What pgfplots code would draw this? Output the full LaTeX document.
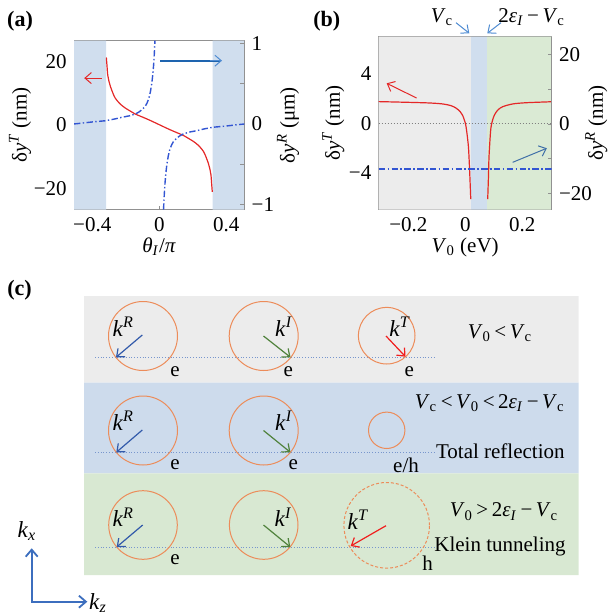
\documentclass[border=0pt]{standalone}
\usepackage{fontspec}
\setmainfont{Liberation Serif}
\usepackage{pgfplots}
\pgfplotsset{compat=1.18}
\usetikzlibrary{arrows.meta}
\definecolor{cred}{RGB}{228,40,40}
\definecolor{cblue}{RGB}{50,85,210}
\definecolor{shblue}{RGB}{208,222,238}
\definecolor{shgray}{RGB}{236,236,236}
\definecolor{shgreen}{RGB}{218,234,212}
\definecolor{rowblue}{RGB}{205,219,236}
\definecolor{rowgreen}{RGB}{216,232,210}
\definecolor{corange}{RGB}{236,140,90}
\definecolor{kRc}{RGB}{50,90,170}
\definecolor{kIc}{RGB}{80,130,60}
\definecolor{kTc}{RGB}{240,30,30}
\definecolor{dotc}{RGB}{120,150,205}
\definecolor{axc}{RGB}{145,145,145}
\definecolor{annc}{RGB}{80,140,210}
\definecolor{darkarr}{RGB}{30,100,175}
\definecolor{kaxc}{RGB}{60,110,190}
\pgfplotsset{
  panel/.style={scale only axis, anchor=south west, tick align=inside,
    major tick length=2pt, minor tick length=2pt,
    axis line style={axc}, every tick/.style={axc, line width=0.4pt},
    tick label style={black}},
}
\tikzset{barb/.style={-{Straight Barb[length=3.2pt,width=5.5pt]}}}
\begin{document}
\fontsize{10.5}{12.6}\selectfont
\begin{tikzpicture}
% ---------------- overlay axis (panel c and labels), pixel coordinates
\begin{axis}[at={(0,0)}, anchor=south west, scale only axis, width=304.5pt, height=307.5pt,
  xmin=0, xmax=609, ymin=0, ymax=615, y dir=reverse, hide axis, clip=false]
  \addplot[draw=none, fill=shgray] coordinates {(84,296) (578.5,296) (578.5,382.7) (84,382.7) (84,296)};
  \addplot[draw=none, fill=rowblue] coordinates {(84,382.7) (578.5,382.7) (578.5,473.3) (84,473.3) (84,382.7)};
  \addplot[draw=none, fill=rowgreen] coordinates {(84,473.3) (578.5,473.3) (578.5,575) (84,575) (84,473.3)};
  % dotted lines
  \addplot[dotc, densely dotted, line width=0.4pt] coordinates {(95,357.3) (436,357.3)};
  \addplot[dotc, densely dotted, line width=0.4pt] coordinates {(95,452.3) (436,452.3)};
  \addplot[dotc, densely dotted, line width=0.4pt] coordinates {(95,547) (436,547)};
  % circles
  \draw[corange, line width=0.5pt] (axis cs:143,336) circle[radius=17.25pt];
  \draw[corange, line width=0.5pt] (axis cs:263.7,336) circle[radius=17.25pt];
  \draw[corange, line width=0.5pt] (axis cs:386.7,335.7) circle[radius=14.15pt];
  \draw[corange, line width=0.5pt] (axis cs:143,430.5) circle[radius=17.25pt];
  \draw[corange, line width=0.5pt] (axis cs:263.7,430.5) circle[radius=17.25pt];
  \draw[corange, line width=0.5pt] (axis cs:386.7,430.3) circle[radius=9.1pt];
  \draw[corange, line width=0.5pt] (axis cs:143,525) circle[radius=17.15pt];
  \draw[corange, line width=0.5pt] (axis cs:263.7,525) circle[radius=17.15pt];
  \draw[corange, line width=0.5pt, dash pattern=on 1.5pt off 1pt] (axis cs:386.7,525.3) circle[radius=21.4pt];
  % arrows
  \draw[kRc, line width=0.6pt, barb] (axis cs:142.3,335) -- (axis cs:116,357.3);
  \draw[kIc, line width=0.6pt, barb] (axis cs:263.5,336) -- (axis cs:290.5,357.3);
  \draw[kTc, line width=0.6pt, barb] (axis cs:386,336) -- (axis cs:405.5,356.7);
  \draw[kRc, line width=0.6pt, barb] (axis cs:142.3,430) -- (axis cs:116.3,452.3);
  \draw[kIc, line width=0.6pt, barb] (axis cs:263.5,430.5) -- (axis cs:290.4,452.3);
  \draw[kRc, line width=0.6pt, barb] (axis cs:142.7,525) -- (axis cs:116.7,547);
  \draw[kIc, line width=0.6pt, barb] (axis cs:263.5,525) -- (axis cs:290.3,547);
  \draw[kTc, line width=0.6pt, barb] (axis cs:386,525.7) -- (axis cs:350.7,546);
  % k labels
  \node at (axis cs:123.3,326.7) {\fontsize{11.5}{13}\selectfont\textit{k}\textsuperscript{\textit{R}}};
  \node at (axis cs:284,326.7) {\fontsize{11.5}{13}\selectfont\textit{k}\textsuperscript{\textit{I}}};
  \node at (axis cs:400,326.7) {\fontsize{11.5}{13}\selectfont\textit{k}\textsuperscript{\textit{T}}};
  \node at (axis cs:123.3,421) {\fontsize{11.5}{13}\selectfont\textit{k}\textsuperscript{\textit{R}}};
  \node at (axis cs:284,421) {\fontsize{11.5}{13}\selectfont\textit{k}\textsuperscript{\textit{I}}};
  \node at (axis cs:123.3,517.3) {\fontsize{11.5}{13}\selectfont\textit{k}\textsuperscript{\textit{R}}};
  \node at (axis cs:283.3,517.3) {\fontsize{11.5}{13}\selectfont\textit{k}\textsuperscript{\textit{I}}};
  \node at (axis cs:358.3,520) {\fontsize{11.5}{13}\selectfont\textit{k}\textsuperscript{\textit{T}}};
  % e / h labels
  \node at (axis cs:175,371.7) {e};
  \node at (axis cs:288.3,371.7) {e};
  \node at (axis cs:409.3,371.7) {e};
  \node at (axis cs:175,464.3) {e};
  \node at (axis cs:293.3,464.3) {e};
  \node at (axis cs:406,465) {e/h};
  \node at (axis cs:175,559.3) {e};
  \node at (axis cs:427.7,563.3) {h};
  % row titles
  \node at (axis cs:500,333.3) {\textit{V}\textsubscript{0}\,<\,\textit{V}\textsubscript{c}};
  \node[anchor=east] at (axis cs:572,403.3) {\textit{V}\textsubscript{c}\,<\,\textit{V}\textsubscript{0}\,<\,2\textit{ε}\textsubscript{\textit{I}}\,−\,\textit{V}\textsubscript{c}};
  \node[anchor=east] at (axis cs:572,451.7) {Total reflection};
  \node at (axis cs:504,511.7) {\textit{V}\textsubscript{0}\,>\,2\textit{ε}\textsubscript{\textit{I}}\,−\,\textit{V}\textsubscript{c}};
  \node[anchor=east] at (axis cs:573,546) {Klein tunneling};
  % kx kz axes
  \draw[kaxc, line width=0.9pt, -{Straight Barb[length=3.5pt,width=6pt]}] (axis cs:31.7,601.7) -- (axis cs:31.7,548.3);
  \draw[kaxc, line width=0.9pt, -{Straight Barb[length=3.5pt,width=6pt]}] (axis cs:31.2,601.7) -- (axis cs:87.3,601.7);
  \node at (axis cs:27,531) {\fontsize{11.5}{13}\selectfont\textit{k}\textsubscript{\textit{x}}};
  \node at (axis cs:98,603) {\fontsize{11.5}{13}\selectfont\textit{k}\textsubscript{\textit{z}}};
  % panel letters
  \node at (axis cs:20,21) {\fontsize{11}{13}\selectfont\textbf{(a)}};
  \node at (axis cs:326.7,21) {\fontsize{11}{13}\selectfont\textbf{(b)}};
  \node at (axis cs:19.5,290) {\fontsize{11}{13}\selectfont\textbf{(c)}};
  % annotations above (b)
  \node at (axis cs:442,17) {\textit{V}\textsubscript{c}};
  \draw[annc, line width=0.5pt, barb] (axis cs:456,22.7) -- (axis cs:469.3,33.3);
  \node at (axis cs:531.7,17) {2\textit{ε}\textsubscript{\textit{I}}\,−\,\textit{V}\textsubscript{c}};
  \draw[annc, line width=0.5pt, barb] (axis cs:501,22.7) -- (axis cs:487.3,33.3);
\end{axis}
% ---------------- panel (a), left axis
\begin{axis}[panel, at={(37pt,202.65pt)}, width=85.15pt, height=84.5pt,
  xmin=-0.509, xmax=0.507, ymin=-26.8, ymax=26.5,
  xtick={-0.4,0,0.4}, xticklabels={−0.4,0,0.4},
  ytick={-20,0,20}, yticklabels={−20,0,20}, minor ytick={-10,10},
  tick pos=left,
  xlabel={\textit{θ}\textsubscript{\textit{I}}/\textit{π}},
  ylabel={δ\textit{y}\textsuperscript{\textit{T}} (nm)},
  xlabel style={at={(axis description cs:0.5,-0.219)}, anchor=center},
  ylabel style={at={(axis description cs:-0.317,0.5)}, anchor=center, rotate=0}]
  \addplot[draw=none, fill=shblue] coordinates {(-0.509,-26.8) (-0.318,-26.8) (-0.318,26.5) (-0.509,26.5) (-0.509,-26.8)};
  \addplot[draw=none, fill=shblue] coordinates {(0.318,-26.8) (0.507,-26.8) (0.507,26.5) (0.318,26.5) (0.318,-26.8)};
  \addplot[cred, line width=0.6pt, smooth] coordinates {
    (-0.316,21.2) (-0.312,18.5) (-0.308,15.8) (-0.300,13.6) (-0.292,12.1) (-0.278,10.1)
    (-0.263,8.4) (-0.235,6.6) (-0.203,5.25) (-0.170,4.2) (-0.143,3.36) (-0.100,2.4)
    (-0.063,1.56) (-0.030,0.75) (0,0) (0.030,-0.75) (0.063,-1.56) (0.100,-2.4)
    (0.143,-3.36) (0.170,-4.2) (0.203,-5.25) (0.235,-6.6) (0.263,-8.4) (0.278,-10.1)
    (0.292,-12.1) (0.300,-13.6) (0.308,-15.8) (0.312,-18.5) (0.316,-21.2)};
  \draw[cred, line width=0.5pt, barb] (axis cs:-0.342,14.7) -- (axis cs:-0.448,14.7);
  \draw[darkarr, line width=1pt] (axis cs:0.006,20.2) -- (axis cs:0.36,20.2);
  \draw[annc, line width=0.5pt, barb] (axis cs:0.30,20.2) -- (axis cs:0.374,20.2);
\end{axis}
% ---------------- panel (a), right axis
\begin{axis}[panel, at={(37pt,202.65pt)}, width=85.15pt, height=84.5pt,
  xmin=-0.509, xmax=0.507, ymin=-1.06, ymax=1.03,
  hide x axis, axis y line*=right,
  ytick={-1,0,1}, yticklabels={−1,0,1}, minor ytick={-0.5,0.5},
  ylabel={δ\textit{y}\textsuperscript{\textit{R}} (μm)},
  ylabel style={at={(axis description cs:1.257,0.5)}, anchor=center, rotate=0}]
  \addplot[cblue, line width=0.7pt, dash pattern=on 3.2pt off 1.2pt on 0.7pt off 1.2pt] coordinates {
    (-0.509,0) (-0.45,0.013) (-0.40,0.025) (-0.322,0.04) (-0.27,0.06) (-0.223,0.083)
    (-0.18,0.10) (-0.143,0.123) (-0.12,0.15) (-0.103,0.177) (-0.085,0.215) (-0.073,0.26)
    (-0.062,0.32) (-0.053,0.40) (-0.045,0.50) (-0.039,0.61) (-0.034,0.73) (-0.030,0.86) (-0.026,1.03)};
  \addplot[cblue, line width=0.7pt, dash pattern=on 3.2pt off 1.2pt on 0.7pt off 1.2pt] coordinates {
    (0.025,-1.06) (0.030,-0.86) (0.034,-0.73) (0.039,-0.61) (0.045,-0.50) (0.053,-0.40)
    (0.062,-0.32) (0.073,-0.26) (0.085,-0.215) (0.103,-0.177) (0.12,-0.15) (0.143,-0.123)
    (0.18,-0.10) (0.223,-0.083) (0.27,-0.06) (0.322,-0.04) (0.40,-0.025) (0.45,-0.013) (0.507,0)};
\end{axis}
% ---------------- panel (b), left axis
\begin{axis}[panel, at={(189.35pt,202.65pt)}, width=86.5pt, height=86.5pt,
  xmin=-0.304, xmax=0.303, ymin=-6.97, ymax=7.02,
  xtick={-0.2,0,0.2}, xticklabels={−0.2,0,0.2},
  ytick={-4,0,4}, yticklabels={−4,0,4}, minor ytick={-6,-2,2,6},
  tick pos=left,
  xlabel={\textit{V}\textsubscript{0} (eV)},
  ylabel={δ\textit{y}\textsuperscript{\textit{T}} (nm)},
  xlabel style={at={(axis description cs:0.5,-0.216)}, anchor=center},
  ylabel style={at={(axis description cs:-0.262,0.5)}, anchor=center, rotate=0}]
  \addplot[draw=none, fill=shgray] coordinates {(-0.304,-6.97) (0.020,-6.97) (0.020,7.02) (-0.304,7.02) (-0.304,-6.97)};
  \addplot[draw=none, fill=shblue] coordinates {(0.020,-6.97) (0.076,-6.97) (0.076,7.02) (0.020,7.02) (0.020,-6.97)};
  \addplot[draw=none, fill=shgreen] coordinates {(0.076,-6.97) (0.303,-6.97) (0.303,7.02) (0.076,7.02) (0.076,-6.97)};
  \addplot[gray, densely dotted, line width=0.5pt] coordinates {(-0.304,0) (0.303,0)};
  \addplot[cred, line width=0.6pt, smooth] coordinates {
    (-0.304,1.77) (-0.196,1.71) (-0.126,1.66) (-0.079,1.58) (-0.050,1.44) (-0.033,1.25)
    (-0.019,0.98) (-0.009,0.63) (-0.0035,0.28) (0.0012,-0.09) (0.006,-0.85) (0.011,-1.93)
    (0.014,-3.28) (0.0165,-4.63) (0.019,-6.11)};
  \addplot[cred, line width=0.6pt, smooth] coordinates {
    (0.0785,-6.11) (0.081,-4.35) (0.083,-2.73) (0.087,-1.12) (0.090,-0.31) (0.095,0.23)
    (0.102,0.69) (0.114,1.09) (0.131,1.36) (0.166,1.58) (0.213,1.68) (0.303,1.76)};
  \draw[cred, line width=0.5pt, barb] (axis cs:-0.171,2.06) -- (axis cs:-0.276,3.25);
  \draw[annc!80!black, line width=0.5pt, barb] (axis cs:0.166,-3.14) -- (axis cs:0.286,-2.0);
\end{axis}
% ---------------- panel (b), right axis
\begin{axis}[panel, at={(189.35pt,202.65pt)}, width=86.5pt, height=86.5pt,
  xmin=-0.304, xmax=0.303, ymin=-24.7, ymax=25.2,
  hide x axis, axis y line*=right,
  ytick={-20,0,20}, yticklabels={−20,0,20}, minor ytick={-10,10},
  ylabel={δ\textit{y}\textsuperscript{\textit{R}} (nm)},
  ylabel style={at={(axis description cs:1.258,0.5)}, anchor=center, rotate=0}]
  \addplot[cblue, line width=0.85pt, dash pattern=on 3.2pt off 1.2pt on 0.8pt off 1.2pt] coordinates {(-0.304,-13.05) (0.303,-13.05)};
\end{axis}
\pgfresetboundingbox
\useasboundingbox (0,0) rectangle (304.5pt,307.5pt);
\end{tikzpicture}
\end{document}
